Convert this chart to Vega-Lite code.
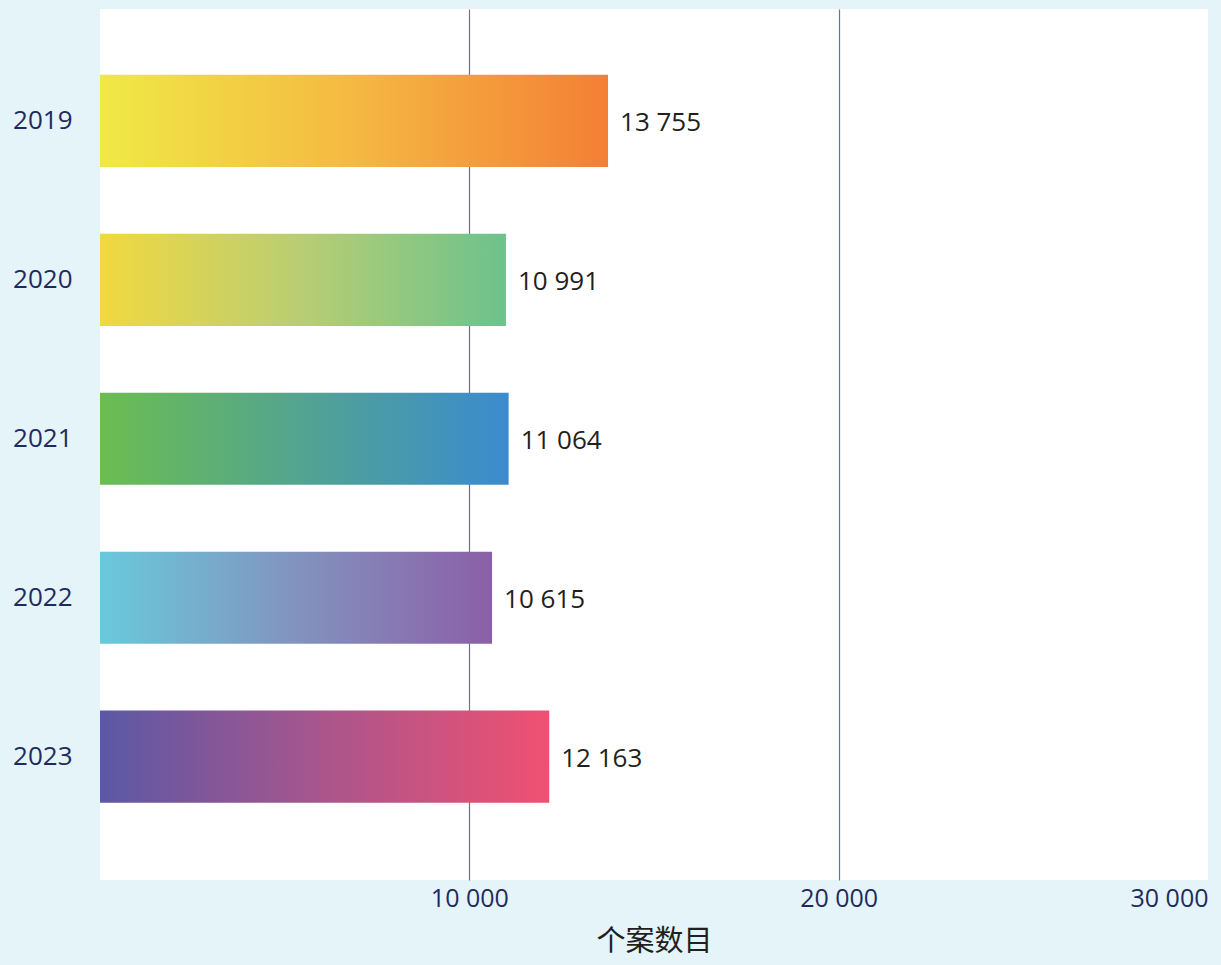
{
  "$schema": "https://vega.github.io/schema/vega-lite/v6.json",
  "width": 1108,
  "height": 871,
  "autosize": "none",
  "padding": {"left": 100, "top": 9, "right": 13, "bottom": 85},
  "background": "#e5f4f8",
  "view": {"fill": "white", "stroke": null},
  "data": {
    "values": [
      {"year": "2019", "cases": 13755, "label": "13 755"},
      {"year": "2020", "cases": 10991, "label": "10 991"},
      {"year": "2021", "cases": 11064, "label": "11 064"},
      {"year": "2022", "cases": 10615, "label": "10 615"},
      {"year": "2023", "cases": 12163, "label": "12 163"}
    ]
  },
  "encoding": {
    "y": {
      "field": "year", "type": "nominal", "sort": ["2019", "2020", "2021", "2022", "2023"],
      "scale": {"paddingInner": 0.42, "paddingOuter": 0.45, "align": 0.46},
      "axis": {"title": null, "ticks": false, "domain": false, "labelPadding": 28, "labelFont": "Open Sans", "labelFontSize": 26, "labelColor": "#1f2b5e"}
    },
    "x": {
      "field": "cases", "type": "quantitative",
      "scale": {"domain": [0, 30000], "nice": false},
      "axis": {
        "title": "个案数目", "titleFont": "Noto Sans CJK SC", "titleFontSize": 29, "titleFontWeight": "normal", "titleColor": "#231f20", "titlePadding": 16,
        "values": [10000, 20000, 30000],
        "labelExpr": "replace(format(datum.value, ','), ',', ' ')",
        "labelAlign": {"condition": {"test": "datum.value == 30000", "value": "right"}, "value": "center"},
        "labelFont": "Open Sans", "labelFontSize": 25, "labelColor": "#1f2b5e", "labelPadding": 6,
        "ticks": false, "domain": false,
        "grid": true,
        "gridColor": {"condition": {"test": "datum.value == 30000", "value": "transparent"}, "value": "#4a7db5"},
        "gridOpacity": 1,
        "gridWidth": 1.2
      }
    }
  },
  "layer": [
    {
      "transform": [{"filter": "datum.year == '2019'"}],
      "mark": {"type": "bar", "color": {"gradient": "linear", "x1": 0, "y1": 0, "x2": 1, "y2": 0, "stops": [{"offset": 0, "color": "#efe946"}, {"offset": 0.5, "color": "#f4b942"}, {"offset": 1, "color": "#f37f36"}]}}
    },
    {
      "transform": [{"filter": "datum.year == '2020'"}],
      "mark": {"type": "bar", "color": {"gradient": "linear", "x1": 0, "y1": 0, "x2": 1, "y2": 0, "stops": [{"offset": 0, "color": "#f1d93f"}, {"offset": 0.5, "color": "#b8cd74"}, {"offset": 1, "color": "#6cc28d"}]}}
    },
    {
      "transform": [{"filter": "datum.year == '2021'"}],
      "mark": {"type": "bar", "color": {"gradient": "linear", "x1": 0, "y1": 0, "x2": 1, "y2": 0, "stops": [{"offset": 0, "color": "#6cbd50"}, {"offset": 0.55, "color": "#50a198"}, {"offset": 1, "color": "#3b8bcf"}]}}
    },
    {
      "transform": [{"filter": "datum.year == '2022'"}],
      "mark": {"type": "bar", "color": {"gradient": "linear", "x1": 0, "y1": 0, "x2": 1, "y2": 0, "stops": [{"offset": 0, "color": "#69c9dc"}, {"offset": 0.5, "color": "#8293bf"}, {"offset": 1, "color": "#8b5fa7"}]}}
    },
    {
      "transform": [{"filter": "datum.year == '2023'"}],
      "mark": {"type": "bar", "color": {"gradient": "linear", "x1": 0, "y1": 0, "x2": 1, "y2": 0, "stops": [{"offset": 0, "color": "#5b58a5"}, {"offset": 0.5, "color": "#a9568b"}, {"offset": 1, "color": "#f05072"}]}}
    },
    {
      "mark": {"type": "text", "align": "left", "baseline": "middle", "dx": 12, "dy": 2, "font": "Open Sans", "fontSize": 26, "color": "#231f20"},
      "encoding": {"text": {"field": "label"}}
    }
  ]
}
